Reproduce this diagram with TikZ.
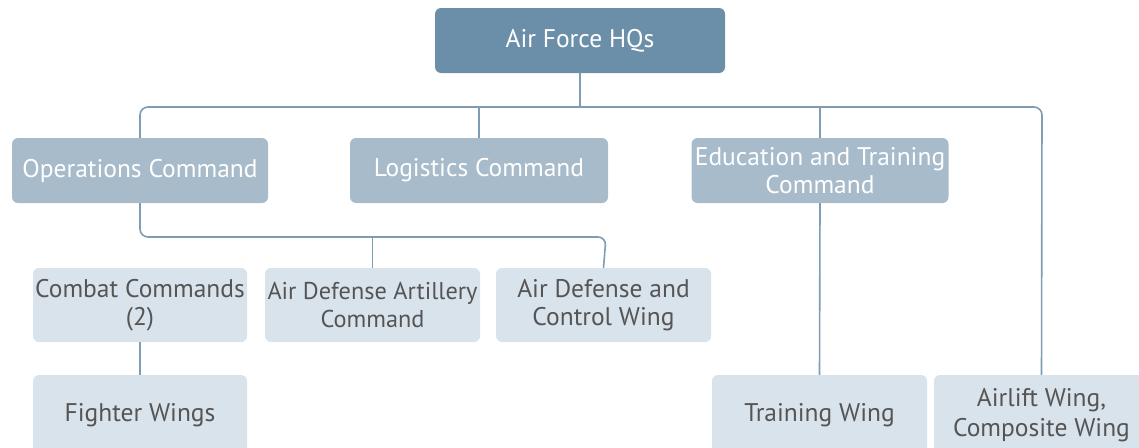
\documentclass[tikz,border=0pt]{standalone}
\usepackage{fontspec}
\setmainfont{PT Sans}
\begin{document}
\begin{tikzpicture}[x=1pt,y=-1pt,
  box/.style={rounded corners=6pt, minimum height=65pt, align=center, inner sep=0pt, font=\fontsize{25.5}{27.5}\selectfont},
  hq/.style={box, fill=hqc, text=white},
  cmd/.style={box, fill=cmdc, text=white},
  unit/.style={box, fill=unitc, text=unitt, minimum height=74pt},
  link/.style={draw=linec, line width=1.6pt, rounded corners=8pt}]
\definecolor{hqc}{HTML}{6C8FA9}
\definecolor{cmdc}{HTML}{A7BBCB}
\definecolor{unitc}{HTML}{D9E3EC}
\definecolor{unitt}{HTML}{555555}
\definecolor{linec}{HTML}{7E9DB5}
\useasboundingbox (0,0) rectangle (1139,447);
\clip (0,0) rectangle (1139,447);
\coordinate (r1) at (140,107);
\coordinate (r2) at (1042,107);
\coordinate (s1) at (140,237);
\coordinate (s2) at (606,237);
\node[hq, minimum width=290pt, minimum height=65pt] (hq) at (580,40.5) {Air Force HQs};
\node[cmd, minimum width=256pt] (ops) at (140,170.5) {Operations Command};
\node[cmd, minimum width=258pt] (log) at (479,170.5) {Logistics Command};
\node[cmd, minimum width=257pt] (edu) at (820,170.5) {Education and Training\\Command};
\node[unit, minimum width=214pt] (cc) at (140,305) {Combat Commands\\(2)};
\node[unit, minimum width=215pt, font=\fontsize{24.3}{27.5}\selectfont] (ada) at (372.5,305) {Air Defense Artillery\\Command};
\node[unit, minimum width=215pt] (adc) at (603.5,305) {Air Defense and\\Control Wing};
\node[unit, minimum width=214pt, minimum height=80pt] (fw) at (140,415) {\raisebox{3pt}{Fighter Wings}};
\node[unit, minimum width=215pt, minimum height=80pt] (tw) at (819.5,415) {\raisebox{2pt}{Training Wing}};
\node[unit, minimum width=215pt, minimum height=80pt] (aw) at (1041.5,415) {\raisebox{2pt}{Airlift Wing,}\\Composite Wing};
\draw[link] (ops.north) -- (r1) -- (r2) -- (aw.north);
\draw[link] (hq.south) -- (hq.south |- r1);
\draw[link] (log.north) -- (log.north |- r1);
\draw[link] (edu.north) -- (edu.north |- r1);
\draw[link] (edu.south) -- (tw.north);
\draw[link] (ops.south) -- (s1) -- (s2) -- (adc.north);
\draw[link] (ada.north) -- (ada.north |- s1);
\draw[link] (cc.south) -- (fw.north);
\end{tikzpicture}
\end{document}
